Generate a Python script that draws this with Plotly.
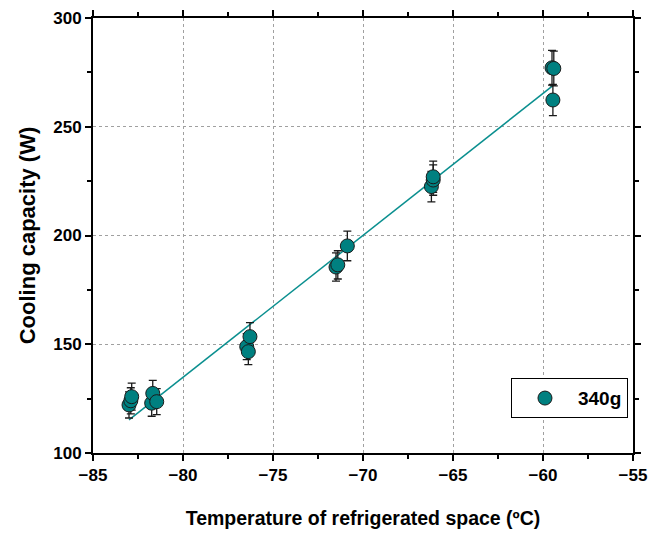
import plotly.graph_objects as go

# Measured points (Temperature ºC, Cooling capacity W, error W)
temp = [-83.0, -82.9, -82.85, -81.74, -81.68, -81.46,
        -76.46, -76.37, -76.28, -71.5, -71.4, -70.87,
        -66.2, -66.1, -66.1, -59.45, -59.5, -59.4]
capacity = [122.1, 124.0, 125.9, 122.9, 127.4, 123.6,
            148.9, 146.6, 153.5, 185.5, 186.5, 195.2,
            222.5, 225.5, 227.0, 262.3, 277.1, 276.8]
err = [6.0, 6.0, 6.2, 6.0, 6.0, 6.0,
       6.0, 6.0, 6.4, 6.5, 6.5, 6.8,
       7.0, 7.0, 7.2, 7.2, 8.0, 8.0]

# Linear fit line endpoints
fit_x = [-83.0, -59.45]
fit_y = [115.2, 268.9]

series_name = "340g"
teal = "#008080"

fig = go.Figure()
fig.add_trace(go.Scatter(
    x=fit_x, y=fit_y, mode="lines",
    line=dict(color="#0a8f8f", width=1.5),
    showlegend=False, hoverinfo="skip"))
fig.add_trace(go.Scatter(
    x=temp, y=capacity, mode="markers", name=series_name,
    marker=dict(size=14, color=teal, line=dict(color="#1a1a1a", width=1)),
    error_y=dict(type="data", array=err, visible=True, color="#1a1a1a",
                 thickness=1.3, width=4)))

font_family = "Liberation Sans, Arial, sans-serif"

axis_common = dict(
    showline=True, linecolor="black", linewidth=2, mirror="allticks",
    ticks="outside", ticklen=6, tickwidth=2, tickcolor="black",
    showgrid=True, gridcolor="#a0a0a0", griddash="dot", gridwidth=1,
    zeroline=False, automargin=False,
    tickfont=dict(family=font_family, size=17, color="black", weight="bold"),
)

fig.update_xaxes(
    range=[-85, -55], tick0=-85, dtick=5,
    minor=dict(dtick=2.5, ticks="outside", ticklen=4, tickwidth=2,
               tickcolor="black", showgrid=False),
    title=dict(text="Temperature of refrigerated space (ºC)",
               font=dict(family=font_family, size=19.5, color="black", weight="bold"),
               standoff=27),
    **axis_common)
fig.update_yaxes(
    range=[100, 300], tick0=100, dtick=50,
    minor=dict(dtick=25, ticks="outside", ticklen=4, tickwidth=2,
               tickcolor="black", showgrid=False),
    title=dict(text="Cooling capacity (W)",
               font=dict(family=font_family, size=22, color="black", weight="bold"),
               standoff=12),
    **axis_common)

fig.update_layout(
    width=666, height=534,
    margin=dict(l=85, r=41, t=10, b=89),
    plot_bgcolor="white", paper_bgcolor="white",
    legend=dict(x=0.9907, y=0.08, xanchor="right", yanchor="bottom",
                bordercolor="black", borderwidth=1, bgcolor="white",
                font=dict(family=font_family, size=19, color="black", weight="bold"),
                itemwidth=56),
)

fig.write_html("out.html")
